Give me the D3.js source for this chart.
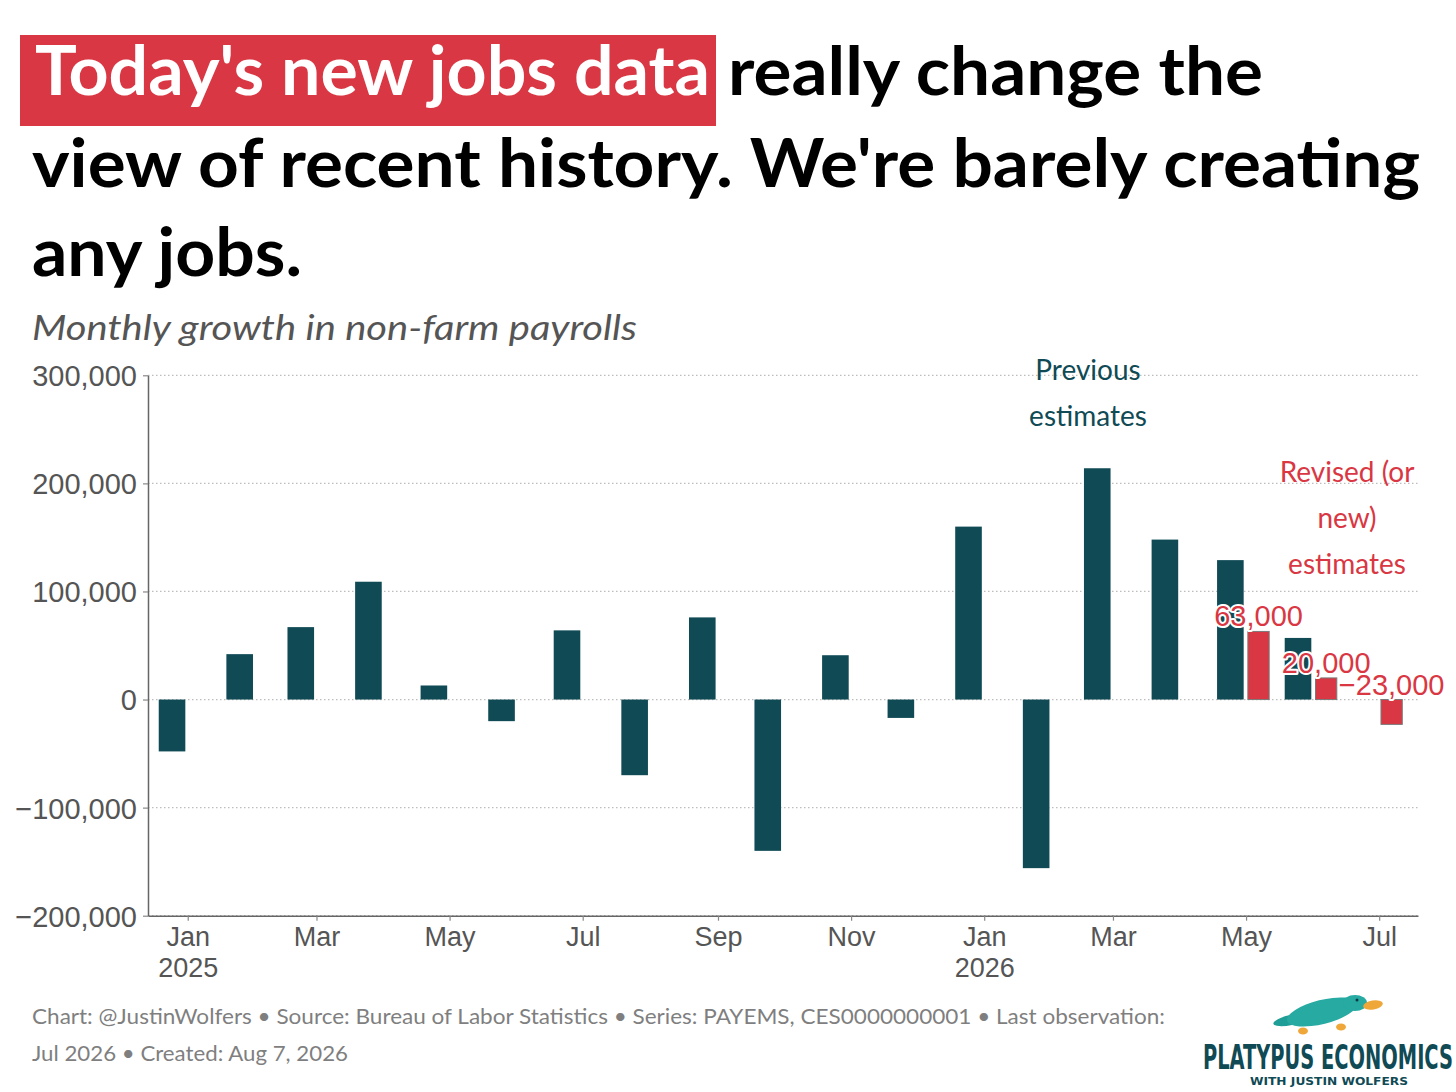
<!DOCTYPE html>
<html>
<head>
<meta charset="utf-8">
<script src="https://cdn.jsdelivr.net/npm/d3@7"></script>
<style>
  body { margin: 0; background: #fff; }
  svg { display: block; }
</style>
</head>
<body>
<svg id="chart"></svg>
<script>
// monthly change in non-farm payrolls, previous vintage
const months = ['2025-01', '2025-02', '2025-03', '2025-04', '2025-05', '2025-06',
  '2025-07', '2025-08', '2025-09', '2025-10', '2025-11', '2025-12',
  '2026-01', '2026-02', '2026-03', '2026-04', '2026-05', '2026-06'];
const previous = [-48000, 42000, 67000, 109000, 13000, -20000,
  64000, -70000, 76000, -140000, 41000, -17000,
  160000, -156000, 214000, 148000, 129000, 57000];

// revised (or new) estimates
const revisedMonths = ['2026-05', '2026-06', '2026-07'];
const revised = [63000, 20000, -23000];

const yTicks = [-200000, -100000, 0, 100000, 200000, 300000];
const xTickMonths = ['2025-01', '2025-03', '2025-05', '2025-07', '2025-09', '2025-11',
  '2026-01', '2026-03', '2026-05', '2026-07'];

const teal = '#0f4a55';
const red = '#d93743';
const width = 1456;
const height = 1092;

const parse = s => {
  const [yy, mm] = s.split('-').map(Number);
  return new Date(Date.UTC(yy, mm - 1, 1));
};

const svg = d3.select('#chart')
  .attr('width', width)
  .attr('height', height);

// ---- title ----
const titleFont = 'Lato, "Open Sans", sans-serif';
svg.append('rect')
  .attr('x', 20).attr('y', 35)
  .attr('width', 696).attr('height', 91)
  .attr('fill', red);

const titleLines = [
  { text: "really change the", x: 728, y: 95, w: 535 },
  { text: "view of recent history. We're barely creating", x: 32, y: 187, w: 1388 },
  { text: 'any jobs.', x: 32, y: 276, w: 270 }
];

svg.append('text')
  .attr('x', 35).attr('y', 95)
  .attr('font-family', titleFont)
  .attr('font-weight', 700)
  .attr('font-size', 68)
  .attr('fill', '#fff')
  .attr('textLength', 675)
  .attr('lengthAdjust', 'spacingAndGlyphs')
  .text("Today's new jobs data");

titleLines.forEach(l => {
  const t = svg.append('text')
    .attr('x', l.x).attr('y', l.y)
    .attr('font-family', titleFont)
    .attr('font-weight', 700)
    .attr('font-size', 66)
    .attr('fill', '#000')
    .text(l.text);
  const len = t.node().getComputedTextLength();
  if (Math.abs(len - l.w) > 8) t.attr('textLength', l.w).attr('lengthAdjust', 'spacingAndGlyphs');
});

svg.append('text')
  .attr('x', 32).attr('y', 340)
  .attr('font-family', titleFont)
  .attr('font-style', 'italic')
  .attr('font-size', 35)
  .attr('fill', '#555')
  .attr('textLength', 605)
  .attr('lengthAdjust', 'spacingAndGlyphs')
  .text('Monthly growth in non-farm payrolls');

// ---- scales ----
const x = d3.scaleUtc()
  .domain([new Date(Date.UTC(2024, 11, 13, 19)), new Date(Date.UTC(2026, 6, 18, 19))])
  .range([148, 1418]);

const y = d3.scaleLinear()
  .domain([-200000, 300000])
  .range([915.7, 375.3]);

const fmt = v => d3.format(',')(v).replace('-', '\u2212');

// gridlines
svg.append('g')
  .selectAll('line')
  .data(yTicks)
  .enter().append('line')
  .attr('x1', 148).attr('x2', 1418)
  .attr('y1', d => y(d)).attr('y2', d => y(d))
  .attr('stroke', '#bdbdbd')
  .attr('stroke-width', 1.2)
  .attr('stroke-dasharray', '1.5,2.5');

// bars: previous estimates
svg.append('g')
  .selectAll('rect')
  .data(months.map((m, i) => ({ date: parse(m), value: previous[i] })))
  .enter().append('rect')
  .attr('x', d => x(d.date) - 29)
  .attr('width', 26.6)
  .attr('y', d => y(Math.max(d.value, 0)))
  .attr('height', d => Math.abs(y(d.value) - y(0)))
  .attr('fill', teal);

// bars: revised estimates
const revData = revisedMonths.map((m, i) => ({ date: parse(m), value: revised[i] }));
svg.append('g')
  .selectAll('rect')
  .data(revData)
  .enter().append('rect')
  .attr('x', d => x(d.date) + 1.8)
  .attr('width', 21.3)
  .attr('y', d => y(Math.max(d.value, 0)))
  .attr('height', d => Math.abs(y(d.value) - y(0)))
  .attr('fill', red)
  .attr('stroke', '#7a7a7a')
  .attr('stroke-width', 1);

// ---- axes ----
const axisFont = '"Liberation Sans", Arial, sans-serif';

const yAxis = svg.append('g')
  .attr('transform', 'translate(148,0)')
  .call(d3.axisLeft(y).tickValues(yTicks).tickFormat(fmt).tickSize(5).tickSizeOuter(0).tickPadding(6));

const xAxis = svg.append('g')
  .attr('transform', `translate(0,${y(-200000)})`)
  .call(d3.axisBottom(x).tickValues(xTickMonths.map(parse)).tickSize(5).tickSizeOuter(0).tickPadding(6)
    .tickFormat(d3.utcFormat('%b')));

[yAxis, xAxis].forEach(a => {
  a.select('.domain').attr('stroke', '#666').attr('stroke-width', 1.5);
  a.selectAll('.tick line').attr('stroke', '#888').attr('stroke-width', 1.2);
  a.selectAll('text')
    .attr('font-family', axisFont)
    .attr('fill', '#555');
});
yAxis.selectAll('text').attr('font-size', 29).attr('dy', '0.36em');
xAxis.selectAll('text').attr('font-size', 27);

// year under January ticks
xAxis.selectAll('.tick')
  .filter(d => d.getUTCMonth() === 0)
  .append('text')
  .attr('y', 42)
  .attr('dy', '0.71em')
  .attr('text-anchor', 'middle')
  .attr('font-family', axisFont)
  .attr('font-size', 27)
  .attr('fill', '#555')
  .text(d => d.getUTCFullYear());

// ---- value labels ----
svg.append('g')
  .selectAll('text')
  .data(revData)
  .enter().append('text')
  .attr('x', d => x(d.date) + 12.5)
  .attr('y', d => y(Math.max(d.value, 0)) - 5)
  .attr('text-anchor', 'middle')
  .attr('font-family', axisFont)
  .attr('font-size', 29)
  .attr('fill', red)
  .attr('stroke', '#fff')
  .attr('stroke-width', 4)
  .attr('stroke-linejoin', 'round')
  .attr('paint-order', 'stroke')
  .text(d => fmt(d.value));

// ---- annotations ----
const annotate = (lines, cx, y0, color) => {
  svg.append('text')
    .attr('text-anchor', 'middle')
    .attr('font-family', titleFont)
    .attr('font-size', 28)
    .attr('fill', color)
    .selectAll('tspan')
    .data(lines)
    .enter().append('tspan')
    .attr('x', cx)
    .attr('y', (d, i) => y0 + i * 46)
    .text(d => d);
};
annotate(['Previous', 'estimates'], 1088, 380, teal);
annotate(['Revised (or', 'new)', 'estimates'], 1347, 482, red);

// ---- footer ----
svg.append('text')
  .attr('x', 32).attr('y', 1024)
  .attr('font-family', titleFont)
  .attr('font-size', 22)
  .attr('fill', '#7f7f7f')
  .attr('textLength', 1133)
  .attr('lengthAdjust', 'spacingAndGlyphs')
  .text('Chart: @JustinWolfers \u2022 Source: Bureau of Labor Statistics \u2022 Series: PAYEMS, CES0000000001 \u2022 Last observation:');
svg.append('text')
  .attr('x', 32).attr('y', 1061)
  .attr('font-family', titleFont)
  .attr('font-size', 22)
  .attr('fill', '#7f7f7f')
  .attr('textLength', 316)
  .attr('lengthAdjust', 'spacingAndGlyphs')
  .text('Jul 2026 \u2022 Created: Aug 7, 2026');

// ---- logo ----
const logo = svg.append('g');
logo.append('ellipse').attr('cx', 1291).attr('cy', 1020).attr('rx', 18).attr('ry', 5)
  .attr('transform', 'rotate(-12,1291,1020)').attr('fill', '#1f9e98');
logo.append('ellipse').attr('cx', 1322).attr('cy', 1012).attr('rx', 36).attr('ry', 12)
  .attr('transform', 'rotate(-14,1322,1012)').attr('fill', '#26aaa2');
logo.append('ellipse').attr('cx', 1355).attr('cy', 1003).attr('rx', 12).attr('ry', 8)
  .attr('fill', '#26aaa2');
logo.append('ellipse').attr('cx', 1373).attr('cy', 1005).attr('rx', 10).attr('ry', 4.5)
  .attr('transform', 'rotate(-10,1373,1005)').attr('fill', '#f0a73a');
[[1303, 1031], [1341, 1027]].forEach(p => {
  logo.append('ellipse').attr('cx', p[0]).attr('cy', p[1]).attr('rx', 5).attr('ry', 3.5)
    .attr('fill', '#f0a73a');
});
logo.append('circle').attr('cx', 1357).attr('cy', 1000).attr('r', 1.5).attr('fill', '#0b3a42');

logo.append('text')
  .attr('x', 1203).attr('y', 1069)
  .attr('font-family', '"DejaVu Sans Condensed", "Liberation Sans Narrow", sans-serif')
  .attr('font-weight', 700)
  .attr('font-size', 33)
  .attr('fill', teal)
  .attr('textLength', 250)
  .attr('lengthAdjust', 'spacingAndGlyphs')
  .text('PLATYPUS ECONOMICS');
logo.append('text')
  .attr('x', 1250).attr('y', 1085)
  .attr('font-family', '"DejaVu Sans", sans-serif')
  .attr('font-weight', 700)
  .attr('font-size', 10)
  .attr('fill', teal)
  .attr('textLength', 158)
  .attr('lengthAdjust', 'spacingAndGlyphs')
  .text('WITH JUSTIN WOLFERS');
</script>
</body>
</html>
